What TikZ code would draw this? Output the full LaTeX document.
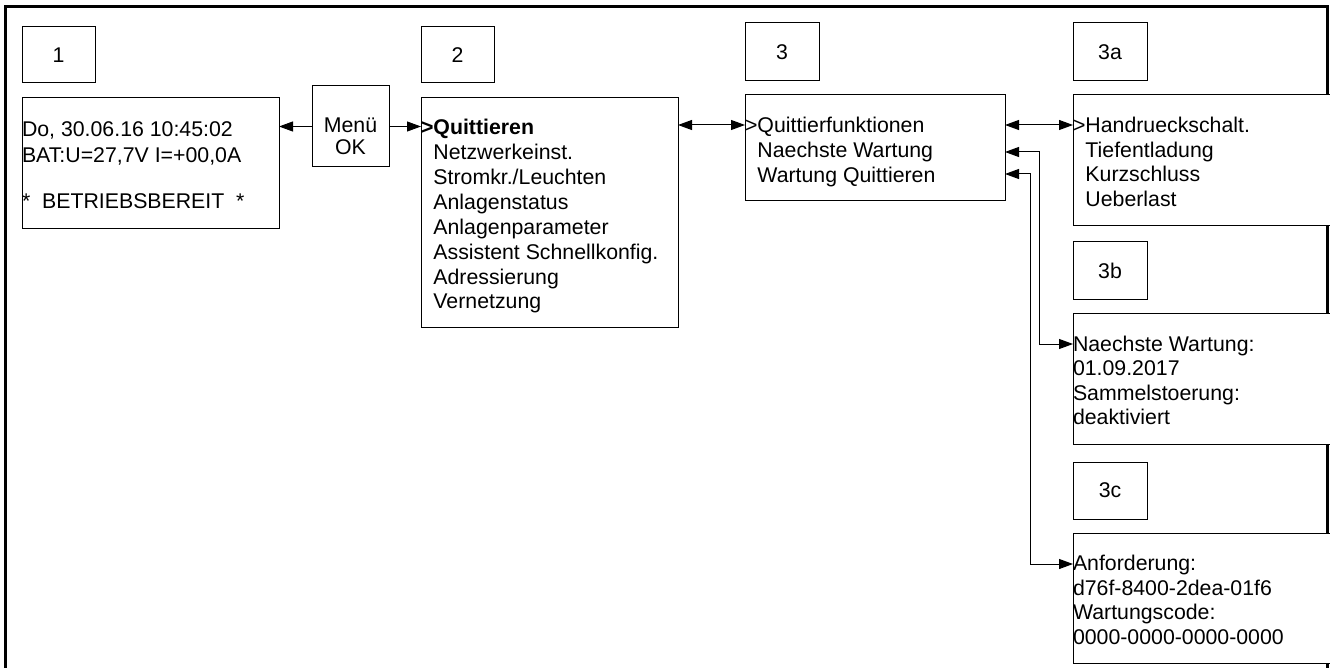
\documentclass[tikz,border=0pt]{standalone}
\usepackage{fontspec}
\setmainfont{Liberation Sans}
\usetikzlibrary{arrows.meta}
\newcommand\mygt{\phantom{>}}
\tikzset{
  x=1pt, y=-1pt,
  >={Triangle[length=14pt,width=10pt]},
  txtfont/.style={font=\fontsize{21.3}{25}\selectfont},
  box/.style={draw, line width=1pt, fill=white, anchor=north west, inner sep=0pt, outer sep=0pt, txtfont},
  txt/.style={inner sep=0pt, outer sep=0pt, anchor=base west, txtfont},
  ctxt/.style={inner sep=0pt, outer sep=0pt, anchor=base, txtfont},
  con/.style={line width=1pt},
  framebox/.style={draw, line width=3pt, anchor=north west, inner sep=0pt, outer sep=0pt, minimum width=1322pt, minimum height=720pt}
}
\begin{document}
\begin{tikzpicture}
\useasboundingbox (0,0) rectangle (1330,668);
\clip (0,0) rectangle (1330,668);
\fill[white] (0,0) rectangle (1330,668);
\node[framebox] (frame) at (5,7) {};

% column 1
\node[box, minimum width=73pt, minimum height=56pt] (lab1) at (22,27) {1};
\node[box, minimum width=257pt, minimum height=131pt] (b1) at (22,98) {};
\node[txt] (b1t1) at (22,137) {Do, 30.06.16 10:45:02};
\node[txt] (b1t2) at (22,163) {BAT:U=27,7V I=+00,0A};
\node[txt] (b1t3) at (22,209) {*\ \ BETRIEBSBEREIT\ \ *};

% Menu OK
\node[box, minimum width=77pt, minimum height=81pt] (menu) at (312,86) {};
\node[ctxt] (m1) at (350.5,133) {Menü};
\node[ctxt] (m2) at (350.5,155) {OK};

% column 2
\node[box, minimum width=73pt, minimum height=56pt] (lab2) at (421,27) {2};
\node[box, minimum width=257pt, minimum height=229pt] (b2) at (421,98) {};
\foreach \t [count=\i from 0] in {{\textbf{>Quittieren}}, {\mygt Netzwerkeinst.}, {\mygt Stromkr./Leuchten}, {\mygt Anlagenstatus}, {\mygt Anlagenparameter}, {\mygt Assistent Schnellkonfig.}, {\mygt Adressierung}, {\mygt Vernetzung}}
  \node[txt] (b2t\i) at (421,135+24.85*\i) {\t};

% column 3
\node[box, minimum width=74pt, minimum height=58pt] (lab3) at (745,23) {3};
\node[box, minimum width=260pt, minimum height=106pt] (b3) at (745,95) {};
\foreach \t [count=\i from 0] in {{>Quittierfunktionen}, {\mygt Naechste Wartung}, {\mygt Wartung Quittieren}}
  \node[txt] (b3t\i) at (745,132.5+25*\i) {\t};

% column 3a
\node[box, minimum width=74pt, minimum height=58pt] (lab3a) at (1073,23) {3a};
\node[box, minimum width=300pt, minimum height=131pt] (b3a) at (1073,95) {};
\foreach \t [count=\i from 0] in {{>Handrueckschalt.}, {\mygt Tiefentladung}, {\mygt Kurzschluss}, {\mygt Ueberlast}}
  \node[txt] (b3at\i) at (1073,132.5+24.6*\i) {\t};

% 3b
\node[box, minimum width=74pt, minimum height=57pt] (lab3b) at (1073,242) {3b};
\node[box, minimum width=300pt, minimum height=131pt] (b3b) at (1073,313) {};
\foreach \t [count=\i from 0] in {{Naechste Wartung:}, {01.09.2017}, {Sammelstoerung:}, {deaktiviert}}
  \node[txt] (b3bt\i) at (1073,351.5+24.3*\i) {\t};

% 3c
\node[box, minimum width=74pt, minimum height=57pt] (lab3c) at (1073,462) {3c};
\node[box, minimum width=300pt, minimum height=130pt] (b3c) at (1073,533) {};
\foreach \t [count=\i from 0] in {{Anforderung:}, {d76f-8400-2dea-01f6}, {Wartungscode:}, {0000-0000-0000-0000}}
  \node[txt] (b3ct\i) at (1073,570.5+24.7*\i) {\t};

% connectors
\draw[con, ->] (menu.west) -- (menu.west -| b1.east);
\draw[con, ->] (menu.east) -- (menu.east -| b2.west);
\draw[con, <->] ([yshift=-27pt]b2.north east) -- ([yshift=-27pt]b2.north east -| b3.west);
\draw[con, <->] ([yshift=-30pt]b3.north east) -- ([yshift=-30pt]b3.north east -| b3a.west);
\draw[con, <->] ([yshift=-57pt]b3.north east) -- ++(34,0) |- ([yshift=-31pt]b3b.north west);
\draw[con, <->] ([yshift=-79pt]b3.north east) -- ++(25,0) |- ([yshift=-31pt]b3c.north west);
\end{tikzpicture}
\end{document}
